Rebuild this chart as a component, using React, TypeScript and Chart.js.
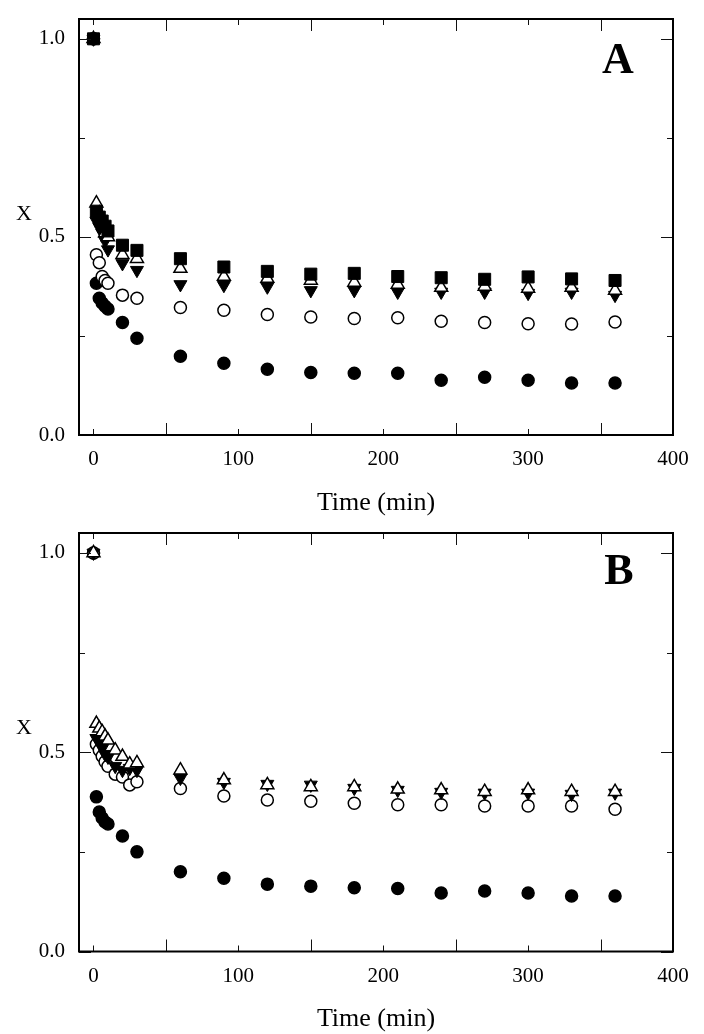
import React, { useEffect, useRef } from "react";
import { Chart, registerables } from "chart.js";
Chart.register(...registerables);

// ---------- data ----------
const timesA = [0, 2, 4, 6, 8, 10, 20, 30, 60, 90, 120, 150, 180, 210, 240, 270, 300, 330, 360];
const aSquareFilled = [1.0, 0.565, 0.55, 0.54, 0.527, 0.515, 0.479, 0.466, 0.445, 0.424, 0.413, 0.406, 0.408, 0.4, 0.397, 0.393, 0.399, 0.394, 0.39];
const aTriUpOpen = [1.0, 0.585, 0.56, 0.535, 0.51, 0.5, 0.455, 0.445, 0.42, 0.4, 0.395, 0.39, 0.385, 0.38, 0.372, 0.375, 0.37, 0.372, 0.365];
const aTriDownFilled = [1.0, 0.54, 0.525, 0.51, 0.49, 0.468, 0.433, 0.416, 0.38, 0.378, 0.374, 0.365, 0.365, 0.361, 0.361, 0.361, 0.358, 0.361, 0.353];
const aCircleOpen = [1.0, 0.455, 0.435, 0.4, 0.39, 0.383, 0.353, 0.345, 0.322, 0.315, 0.304, 0.298, 0.294, 0.296, 0.287, 0.284, 0.281, 0.28, 0.285];
const aCircleFilled = [1.0, 0.383, 0.345, 0.333, 0.325, 0.318, 0.284, 0.244, 0.199, 0.181, 0.166, 0.158, 0.156, 0.156, 0.138, 0.146, 0.138, 0.131, 0.131];

const timesB = [0, 2, 4, 6, 8, 10, 15, 20, 25, 30, 60, 90, 120, 150, 180, 210, 240, 270, 300, 330, 360];
const bTriUpOpen = [1.0, 0.572, 0.56, 0.551, 0.54, 0.53, 0.505, 0.489, 0.47, 0.473, 0.455, 0.43, 0.418, 0.413, 0.413, 0.407, 0.405, 0.401, 0.405, 0.401, 0.401];
const bTriDownFilled = [1.0, 0.535, 0.525, 0.51, 0.495, 0.488, 0.465, 0.455, 0.46, 0.455, 0.435, 0.425, 0.42, 0.418, 0.41, 0.405, 0.4, 0.398, 0.398, 0.395, 0.398];
const bCircleOpen = [1.0, 0.52, 0.505, 0.49, 0.476, 0.465, 0.445, 0.438, 0.418, 0.426, 0.409, 0.39, 0.38, 0.377, 0.372, 0.368, 0.368, 0.365, 0.365, 0.365, 0.357];
const bCircleFilled = [1.0, 0.388, 0.35, 0.335, 0.325, 0.32, null, 0.29, null, 0.25, 0.2, 0.184, 0.169, 0.164, 0.16, 0.158, 0.147, 0.152, 0.147, 0.139, 0.139];

const xTickLabels = [0, 100, 200, 300, 400];
const xTickMarks = [0, 50, 100, 150, 200, 250, 300, 350, 400];
const yTickLabels = [0, 0.5, 1.0];
const yTickMarks = [0, 0.25, 0.5, 0.75, 1.0];

const SERIF = "'Liberation Serif', 'Times New Roman', serif";

type Kind = "squareFilled" | "triUpOpen" | "triDownFilled" | "circleOpen" | "circleFilled";

function pts(times: number[], vals: (number | null)[]) {
  const out: { x: number; y: number }[] = [];
  times.forEach((t, i) => {
    const v = vals[i];
    if (v !== null && v !== undefined) out.push({ x: t, y: v });
  });
  return out;
}

function dataset(kind: Kind, times: number[], vals: (number | null)[]) {
  const base: any = { label: kind, data: pts(times, vals), showLine: false, borderColor: "#000" };
  switch (kind) {
    case "squareFilled":
      return { ...base, pointStyle: "rect", pointRadius: 8.5, pointBackgroundColor: "#000", pointBorderWidth: 1 };
    case "triUpOpen":
      return { ...base, pointStyle: "triangle", pointRadius: 7.5, pointBackgroundColor: "#fff", pointBorderWidth: 1.5 };
    case "triDownFilled":
      return { ...base, pointStyle: "triangle", pointRotation: 180, pointRadius: 7.5, pointBackgroundColor: "#000", pointBorderWidth: 1 };
    case "circleOpen":
      return { ...base, pointStyle: "circle", pointRadius: 6, pointBackgroundColor: "#fff", pointBorderWidth: 1.5 };
    default:
      return { ...base, pointStyle: "circle", pointRadius: 6, pointBackgroundColor: "#000", pointBorderWidth: 1.5 };
  }
}

function decor(letter: string, xLabelY: number, letterX: number, letterY: number) {
  return {
    id: "decor" + letter,
    afterDraw(chart: any) {
      const { ctx, chartArea: a, scales } = chart;
      const xs = scales.x;
      const ys = scales.y;
      ctx.save();
      ctx.strokeStyle = "#111";
      ctx.lineWidth = 1;
      ctx.beginPath();
      xTickMarks.forEach((v) => {
        const px = Math.round(xs.getPixelForValue(v)) + 0.5;
        const len = xTickLabels.includes(v) ? 6 : 12;
        ctx.moveTo(px, a.bottom);
        ctx.lineTo(px, a.bottom - len);
        ctx.moveTo(px, a.top);
        ctx.lineTo(px, a.top + len);
      });
      yTickMarks.forEach((v) => {
        const py = Math.round(ys.getPixelForValue(v)) + 0.5;
        const len = yTickLabels.includes(v) ? 12 : 6;
        ctx.moveTo(a.left, py);
        ctx.lineTo(a.left + len, py);
        ctx.moveTo(a.right, py);
        ctx.lineTo(a.right - len, py);
      });
      ctx.stroke();
      ctx.lineWidth = 2;
      ctx.strokeStyle = "#000";
      ctx.strokeRect(a.left, a.top, a.right - a.left, a.bottom - a.top);
      ctx.fillStyle = "#000";
      ctx.textAlign = "center";
      ctx.textBaseline = "middle";
      ctx.font = `22px ${SERIF}`;
      ctx.fillText("X", 24, xLabelY);
      ctx.font = `bold 44px ${SERIF}`;
      ctx.fillText(letter, letterX, letterY);
      ctx.restore();
    },
  };
}

type PanelProps = {
  letter: string;
  datasets: any[];
  padTop: number;
  xAxisHeight: number;
  titlePadBottom: number;
  xLabelY: number;
  letterX: number;
  letterY: number;
};

function Panel(p: PanelProps) {
  const ref = useRef<HTMLCanvasElement | null>(null);
  useEffect(() => {
    if (!ref.current) return;
    const chart = new Chart(ref.current, {
      type: "scatter",
      data: { datasets: p.datasets },
      options: {
        animation: false,
        responsive: false,
        devicePixelRatio: 1,
        layout: { padding: { left: 0, right: 31, top: p.padTop, bottom: 0 } },
        plugins: { legend: { display: false }, tooltip: { enabled: false } },
        scales: {
          x: {
            type: "linear",
            min: -10,
            max: 400,
            grid: { display: false, drawTicks: false },
            border: { display: false },
            afterBuildTicks: (s: any) => {
              s.ticks = xTickLabels.map((v) => ({ value: v }));
            },
            afterFit: (s: any) => {
              s.height = p.xAxisHeight;
              s.paddingLeft = 0;
              s.paddingRight = 0;
            },
            ticks: {
              padding: 12,
              color: "#000",
              font: { family: SERIF, size: 21 },
              maxRotation: 0,
              autoSkip: false,
              callback: (v: any) => String(v),
            },
            title: {
              display: true,
              text: "Time (min)",
              color: "#000",
              font: { family: SERIF, size: 26 },
              padding: { top: 0, bottom: p.titlePadBottom },
            },
          },
          y: {
            type: "linear",
            min: 0,
            max: 1.05,
            grid: { display: false, drawTicks: false },
            border: { display: false },
            afterBuildTicks: (s: any) => {
              s.ticks = yTickLabels.map((v) => ({ value: v }));
            },
            afterFit: (s: any) => {
              s.width = 79;
              s.paddingTop = 0;
              s.paddingBottom = 0;
            },
            ticks: {
              padding: 14,
              color: "#000",
              font: { family: SERIF, size: 21 },
              autoSkip: false,
              callback: (v: any) => Number(v).toFixed(1),
            },
          },
        },
      },
      plugins: [decor(p.letter, p.xLabelY, p.letterX, p.letterY)],
    } as any);
    return () => chart.destroy();
  }, []);
  return <canvas ref={ref} width={704} height={517} style={{ display: "block", width: 704, height: 517 }} />;
}

export default function App() {
  const dsA = [
    dataset("squareFilled", timesA, aSquareFilled),
    dataset("triUpOpen", timesA, aTriUpOpen),
    dataset("triDownFilled", timesA, aTriDownFilled),
    dataset("circleOpen", timesA, aCircleOpen),
    dataset("circleFilled", timesA, aCircleFilled),
  ];
  const dsB = [
    dataset("triUpOpen", timesB, bTriUpOpen),
    dataset("triDownFilled", timesB, bTriDownFilled),
    dataset("circleOpen", timesB, bCircleOpen),
    dataset("circleFilled", timesB, bCircleFilled),
  ];
  return (
    <div style={{ position: "absolute", left: 0, top: 0, width: 704, height: 1034, background: "#fff" }}>
      <Panel letter="A" datasets={dsA} padTop={19} xAxisHeight={82} titlePadBottom={-2} xLabelY={214} letterX={618} letterY={62} />
      <Panel letter="B" datasets={dsB} padTop={16} xAxisHeight={82.5} titlePadBottom={-1} xLabelY={211} letterX={619} letterY={56} />
    </div>
  );
}
